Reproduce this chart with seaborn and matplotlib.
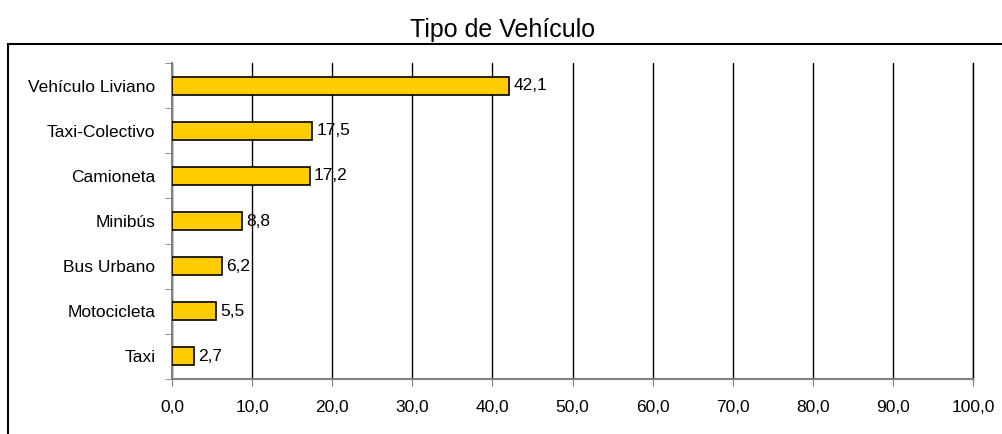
import seaborn as sns
import pandas as pd
import matplotlib.pyplot as plt
from matplotlib.patches import Rectangle

# data
categorias = ['Vehículo Liviano', 'Taxi-Colectivo', 'Camioneta', 'Minibús',
              'Bus Urbano', 'Motocicleta', 'Taxi']
porcentajes = [42.1, 17.5, 17.2, 8.8, 6.2, 5.5, 2.7]
x_ticks = [0, 10, 20, 30, 40, 50, 60, 70, 80, 90, 100]

df = pd.DataFrame({'Tipo': categorias, 'Porcentaje': porcentajes})

sns.set_style('white')
plt.rcParams['font.family'] = ['Liberation Sans', 'DejaVu Sans']
plt.rcParams['text.color'] = 'black'
plt.rcParams['xtick.labelcolor'] = 'black'
plt.rcParams['ytick.labelcolor'] = 'black'

fig = plt.figure(figsize=(10.03, 4.34), dpi=100)
ax = fig.add_axes([172 / 1003, 1 - 379 / 434, (973 - 172) / 1003, (379 - 63) / 434])

sns.barplot(data=df, y='Tipo', x='Porcentaje', color='#FFCC00', saturation=1,
            edgecolor='black', linewidth=1.2, width=0.4, ax=ax, zorder=3)

ax.set_xlim(0, 100)
ax.set_ylim(len(categorias) - 0.5, -0.5)
ax.set_xticks(x_ticks)
ax.set_xticklabels([f'{v:.1f}'.replace('.', ',') for v in x_ticks], fontsize=12.5)
ax.tick_params(axis='y', labelsize=12.5, length=0, pad=12)
ax.tick_params(axis='x', length=5, color='#808080', direction='out', bottom=True, pad=10)

# category boundary ticks on the y axis
ax.set_yticks([i - 0.5 for i in range(len(categorias) + 1)], minor=True)
ax.tick_params(axis='y', which='minor', length=5, color='#808080', left=True)

ax.grid(axis='x', color='black', linewidth=1, zorder=0)
ax.set_axisbelow(True)
ax.spines['top'].set_visible(False)
ax.spines['right'].set_color('black')
ax.spines['right'].set_linewidth(1)
for s in ['left', 'bottom']:
    ax.spines[s].set_color('#808080')
    ax.spines[s].set_linewidth(1.5)
ax.set_xlabel('')
ax.set_ylabel('')

for i, v in enumerate(porcentajes):
    ax.text(v + 0.5, i, f'{v:.1f}'.replace('.', ','), va='center', ha='left', fontsize=12.5, zorder=4)

fig.text(503 / 1003, 1 - 30 / 434, 'Tipo de Vehículo', ha='center', va='center', fontsize=18)

# outer frame of the chart area
fig.patches.append(Rectangle((8 / 1003, -0.1), 1.1, 1 - 44 / 434 + 0.1, transform=fig.transFigure,
                             fill=False, edgecolor='black', linewidth=1.5))

plt.savefig('out.png', dpi=100)
